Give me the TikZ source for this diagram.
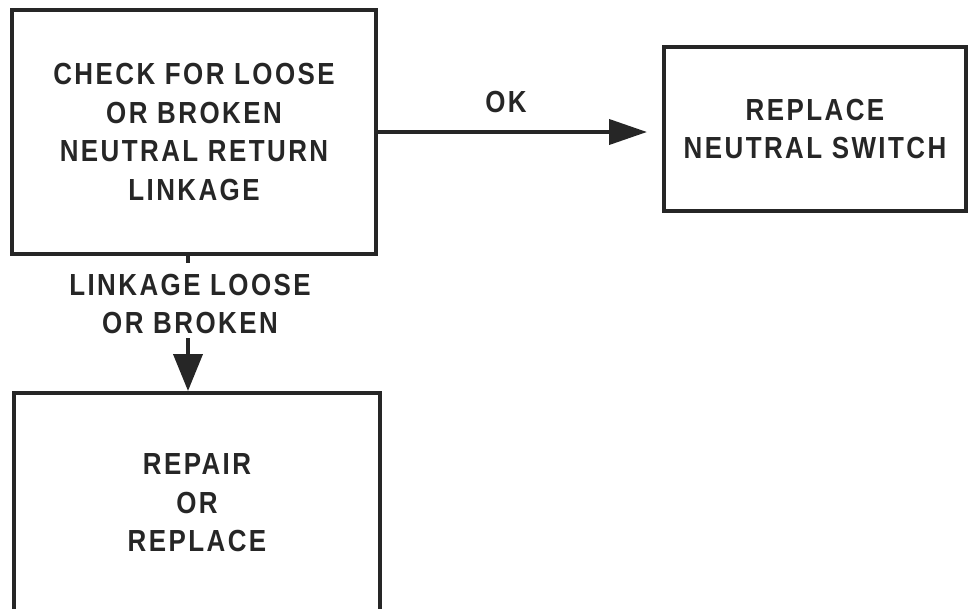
\documentclass[tikz,border=0pt]{standalone}
\usepackage{fontspec}
\setmainfont{Liberation Sans}[FakeStretch=0.85,LetterSpace=8]
\usetikzlibrary{arrows.meta}
\definecolor{ink}{HTML}{262626}
\begin{document}
\begin{tikzpicture}[x=1pt,y=-1pt,
  box/.style={draw=ink, line width=4pt, inner sep=0pt, align=center,
    font=\fontsize{30.5}{38.5}\selectfont\bfseries, text=ink},
  lbl/.style={font=\fontsize{30.5}{38}\selectfont\bfseries, align=center, text=ink, inner sep=0pt},
  conn/.style={line width=4pt, draw=ink}]
\useasboundingbox (0,0) rectangle (969,608);
\clip (0,0) rectangle (969,608);
\node[box, minimum width=364pt, minimum height=244pt] (b1) at (194,132)
  {CHECK FOR LOOSE\\OR BROKEN\\NEUTRAL RETURN\\LINKAGE};
\node[box, minimum width=302pt, minimum height=164pt] (b2) at (815,129)
  {REPLACE\\NEUTRAL SWITCH};
\node[box, minimum width=366pt, minimum height=220pt] (b3) at (197,503)
  {REPAIR\\OR\\REPLACE};
\node[lbl] (ok) at (506,102) {OK};
\node[lbl] (ll) at (190,304) {LINKAGE LOOSE\\OR BROKEN};
\coordinate (s1) at (188,263);
\coordinate (s2) at (188,338);
\draw[conn, -{Triangle[length=38pt,width=25pt]}, shorten >=15pt] (b1.east) -- (b1.east -| b2.west);
\draw[conn] (b1.south -| s1) -- (s1);
\draw[conn, -{Triangle[length=37pt,width=29pt]}] (s2) -- (s2 |- b3.north);
\end{tikzpicture}
\end{document}
